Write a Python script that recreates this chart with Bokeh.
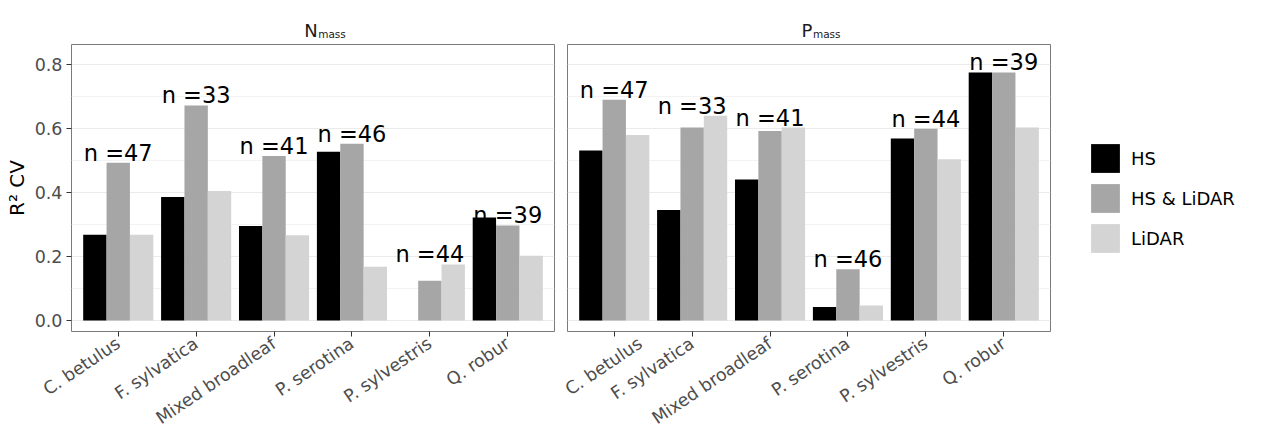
import math
import numpy as np
from bokeh.plotting import figure
from bokeh.models import (ColumnDataSource, FactorRange, Range1d, FixedTicker,
                          PrintfTickFormatter, Legend, LegendItem)
from bokeh.transform import dodge
from bokeh.layouts import row, column
from bokeh.core.properties import value
from bokeh.embed import file_html
from bokeh.resources import INLINE

# ---- data -------------------------------------------------------------
species = ["C. betulus", "F. sylvatica", "Mixed broadleaf",
           "P. serotina", "P. sylvestris", "Q. robur"]
series = ["HS", "HS & LiDAR", "LiDAR"]
series_colors = ["#000000", "#a6a6a6", "#d4d4d4"]

# N_mass : cross-validated R^2 per species and sensor combination
n_mass_hs = [0.268, 0.386, 0.295, 0.527, np.nan, 0.322]
n_mass_hs_lidar = [0.493, 0.672, 0.514, 0.552, 0.124, 0.297]
n_mass_lidar = [0.268, 0.405, 0.266, 0.168, 0.175, 0.202]
n_mass_n = [47, 33, 41, 46, 44, 39]

# P_mass : cross-validated R^2 per species and sensor combination
p_mass_hs = [0.531, 0.345, 0.441, 0.042, 0.569, 0.775]
p_mass_hs_lidar = [0.690, 0.603, 0.592, 0.160, 0.599, 0.775]
p_mass_lidar = [0.580, 0.640, 0.603, 0.047, 0.504, 0.603]
p_mass_n = [47, 33, 41, 46, 44, 39]

y_ticks = [0.0, 0.2, 0.4, 0.6, 0.8]
y_minor_ticks = [0.1, 0.3, 0.5, 0.7]

# ---- layout constants -------------------------------------------------
FONT = "DejaVu Sans"
FRAME_W, FRAME_H = 483, 287
TOP = 44                       # height of the facet-title strip
BOTTOM = 94                    # room for the slanted category labels
LEFT1, RIGHT1 = 71, 7          # borders of the left panel
LEFT2, RIGHT2 = 6, 222         # borders of the right panel (legend side)
W1 = LEFT1 + FRAME_W + RIGHT1
W2 = LEFT2 + FRAME_W + RIGHT2


def make_panel(hs, hs_lidar, lidar, n, first):
    src = ColumnDataSource(dict(
        species=species, hs=hs, hs_lidar=hs_lidar, lidar=lidar,
        label=[f"n ={k}" for k in n],
        label_y=np.fmax(np.array(hs_lidar, dtype=float), np.array(lidar, dtype=float)),
    ))
    p = figure(
        x_range=FactorRange(factors=species, range_padding=0.1,
                            range_padding_units="absolute"),
        y_range=Range1d(-0.0344, 0.8625),
        frame_width=FRAME_W, frame_height=FRAME_H,
        min_border_left=LEFT1 if first else LEFT2,
        min_border_right=RIGHT1 if first else 0,
        min_border_top=1, min_border_bottom=BOTTOM,
        output_backend="svg", toolbar_location=None,
        background_fill_color="white", border_fill_color="white",
    )
    p.outline_line_color = "#7a7a7a"
    p.outline_line_width = 1

    renderers = []
    for col, off, color in zip(["hs", "hs_lidar", "lidar"], [-0.3, 0.0, 0.3], series_colors):
        r = p.vbar(x=dodge("species", off, range=p.x_range), top=col, width=0.3,
                   source=src, fill_color=color, line_color=None)
        renderers.append(r)

    p.text(x="species", y="label_y", text="label", source=src,
           text_align="center", text_baseline="alphabetic", y_offset=-10,
           text_font=value(FONT), text_font_size="22.5px", text_color="black")

    # grid
    p.xgrid.grid_line_color = None
    p.ygrid.grid_line_color = "#ebebeb"
    p.ygrid.grid_line_width = 1.2
    p.ygrid.minor_grid_line_color = "#f3f3f3"
    p.ygrid.minor_grid_line_width = 1

    # y axis
    ya = p.yaxis[0]
    ya.ticker = FixedTicker(ticks=y_ticks, minor_ticks=y_minor_ticks)
    ya.formatter = PrintfTickFormatter(format="%.1f")
    ya.axis_line_color = None
    ya.minor_tick_line_color = None
    ya.major_tick_in = 0
    ya.major_tick_out = 5
    ya.major_tick_line_color = "#333333"
    ya.major_label_standoff = 4
    ya.major_label_text_font = FONT
    ya.major_label_text_font_size = "17.5px"
    ya.major_label_text_color = "#4d4d4d"
    if first:
        ya.axis_label = "R² CV"
        ya.axis_label_text_font = FONT
        ya.axis_label_text_font_size = "20px"
        ya.axis_label_text_font_style = "normal"
        ya.axis_label_text_color = "black"
        ya.axis_label_standoff = 3
    else:
        ya.visible = False

    # x axis
    xa = p.xaxis[0]
    xa.axis_line_color = None
    xa.major_tick_in = 0
    xa.major_tick_out = 5
    xa.major_tick_line_color = "#333333"
    xa.major_label_orientation = math.radians(34)
    xa.major_label_standoff = 5
    xa.major_label_text_font = FONT
    xa.major_label_text_font_size = "17.5px"
    xa.major_label_text_color = "#4d4d4d"
    return p, renderers


def make_strip(letter, width, frame_center):
    """Facet title strip: a letter with a 'mass' subscript (data units = pixels)."""
    h = TOP - 1
    t = figure(width=width, height=h, x_range=Range1d(0, width), y_range=Range1d(0, h),
               min_border=0, title=None, output_backend="svg", toolbar_location=None,
               background_fill_color="white", border_fill_color="white")
    t.axis.visible = False
    t.grid.visible = False
    t.outline_line_color = None
    half = {"N": 6.7, "P": 5.4}[letter]
    cx = frame_center - 2
    t.text(x=[cx], y=[h - 30], text=[letter], text_align="center",
           text_baseline="alphabetic", text_font=value(FONT), text_font_size="18px",
           text_color="#1a1a1a")
    t.text(x=[cx + half + 0.5], y=[h - 33], text=["mass"], text_align="left",
           text_baseline="alphabetic", text_font=value(FONT), text_font_size="10.5px",
           text_color="#1a1a1a")
    return t


p1, _ = make_panel(n_mass_hs, n_mass_hs_lidar, n_mass_lidar, n_mass_n, True)
p2, rs = make_panel(p_mass_hs, p_mass_hs_lidar, p_mass_lidar, p_mass_n, False)

legend = Legend(
    items=[LegendItem(label=s, renderers=[r]) for s, r in zip(series, rs)],
    location=(37, 75),
    glyph_width=36, glyph_height=36, spacing=4, label_standoff=8,
    padding=0, margin=0, border_line_color=None, background_fill_alpha=0,
    label_text_font=FONT, label_text_font_size="18px", label_text_color="black",
)
p2.add_layout(legend, "right")
p2.min_border_right = RIGHT2

t1 = make_strip("N", W1, LEFT1 + FRAME_W / 2)
t2 = make_strip("P", W2, LEFT2 + FRAME_W / 2)

layout = column(row(t1, t2), row(p1, p2))
open("out.html", "w").write(file_html(layout, INLINE))
